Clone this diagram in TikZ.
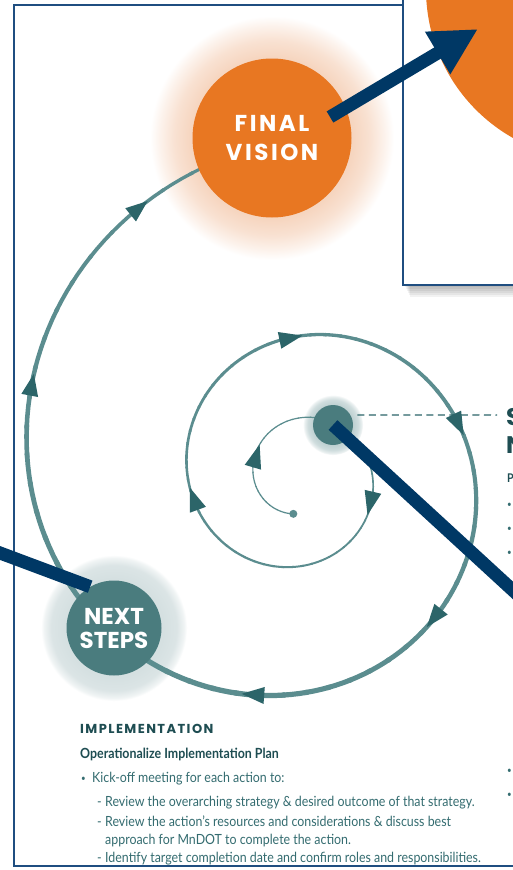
\documentclass[tikz,border=0pt]{standalone}
\usepackage{fontspec}
\setmainfont{Lato}
\newfontfamily\circlefont[LetterSpace=11]{Poppins}
\newfontfamily\stepsfont{Poppins}
\newfontfamily\headfont[LetterSpace=11]{Poppins}
\newfontfamily\bodyfont[FakeStretch=0.885]{Lato}
\usetikzlibrary{arrows.meta,calc}

\definecolor{visionorange}{HTML}{E87722}
\definecolor{halopeach}{HTML}{F6D5BF}
\definecolor{stepteal}{HTML}{4A7C7E}
\definecolor{stepshalo}{HTML}{D5E0E1}
\definecolor{hubhalo}{HTML}{BFD1D2}
\definecolor{spiralteal}{HTML}{5B8D8F}
\definecolor{tipteal}{HTML}{2C6569}
\definecolor{pointernavy}{HTML}{003865}
\definecolor{framenavy}{HTML}{1F4E80}
\definecolor{headteal}{HTML}{1E4D52}
\definecolor{bodyteal}{HTML}{346C70}

% a shaded circle of radius r spans 0bp to 25bp
\pgfdeclareradialshading{visionhalo}{\pgfpointorigin}{color(0bp)=(halopeach); color(16.5bp)=(halopeach); color(20bp)=(halopeach!70!white); color(23bp)=(halopeach!30!white); color(25bp)=(white); color(50bp)=(white)}
\pgfdeclareradialshading{stepshalo}{\pgfpointorigin}{color(0bp)=(stepshalo); color(17bp)=(stepshalo); color(21.5bp)=(stepshalo!85!white); color(24bp)=(stepshalo!35!white); color(25bp)=(white); color(50bp)=(white)}
\pgfdeclareradialshading{hubhalo}{\pgfpointorigin}{color(0bp)=(hubhalo); color(17bp)=(hubhalo); color(21bp)=(hubhalo!75!white); color(24bp)=(hubhalo!30!white); color(25bp)=(white); color(50bp)=(white)}

\begin{document}
\begin{tikzpicture}[x=1pt, y=-1pt,
    declare function={
      sr(\x)=46.7*exp(0.002435*(\x-180));
      sx(\x)=300+sr(\x)*cos(\x);
      sy(\x)=476+sr(\x)*sin(\x);
      sback(\x)=180+ln((sr(\x)-3.32)/46.7)/0.002435;
    },
    stagecircle/.style={circle, inner sep=0pt, text=white, align=center},
    pointer/.style={draw=pointernavy, line width=13pt},
    listline/.style={anchor=base west, inner sep=0pt, text=bodyteal, font=\bodyfont\fontsize{14}{16}\selectfont},
    listdot/.style={anchor=base west, inner sep=0pt, text=bodyteal, font=\bodyfont\fontsize{9}{11}\selectfont}
  ]
  \useasboundingbox (0,0) rectangle (513,870);
  \fill[white] (0,0) rectangle (513,870);
  \draw[framenavy, line width=1.5pt] (14,5) rectangle (560,866);

  % halos
  \coordinate (visionspot) at (272,138);
  \coordinate (stepsspot) at (114,628);
  \coordinate (hubspot) at (333,425);
  \shade[shading=visionhalo] (visionspot) circle[radius=122];
  \shade[shading=stepshalo] (stepsspot) circle[radius=73];
  \shade[shading=hubhalo] (hubspot) circle[radius=30];

  % spiral, getting wider outwards
  \foreach \a in {100,106,...,982} {
    \pgfmathsetmacro\b{\a+6.6}
    \pgfmathsetmacro\t{(\a-300)/520}
    \pgfmathsetmacro\w{\a<300 ? 1.2 : (\a<820 ? 1.5+3.8*(0.25*\t+0.75*\t*\t) : 5.3-2.6*((\a-820)/166)*((\a-820)/166))}
    \draw[spiralteal, line width=\w pt, line cap=round] plot[domain=\a:\b, samples=4] ({sx(\x)},{sy(\x)});
  }
  \foreach \p in {218,390,534,631,706,770,825,921,961} {
    \pgfmathsetmacro\q{sback(\p)}
    \coordinate (tip) at ({sx(\p)},{sy(\p)});
    \coordinate (tail) at ({sx(\q)},{sy(\q)});
    \fill[tipteal] (tip) -- ($(tail)!8.5pt!90:(tip)$) -- ($(tail)!8.5pt!-90:(tip)$) -- cycle;
  }
  \node[circle, fill=spiralteal, inner sep=0pt, minimum size=8pt] (spiralstart) at ({sx(100)},{sy(100)}) {};

  % stages
  \node[stagecircle, fill=visionorange, minimum size=159pt,
        font=\circlefont\bfseries\fontsize{23}{29}\selectfont] (vision) at (visionspot) {FINAL\\VISION};
  \node[stagecircle, fill=stepteal, minimum size=95pt,
        font=\stepsfont\bfseries\fontsize{23}{24}\selectfont] (nextsteps) at (stepsspot) {NEXT\\STEPS};
  \node[stagecircle, fill=stepteal, minimum size=40pt] (hub) at (hubspot) {};
  \coordinate (stepnote) at (497,415);
  \draw[tipteal, line width=1.2pt, dash pattern=on 7pt off 4.5pt, shorten <=7pt] (hub.30) -- (stepnote);

  % detail box top right
  \foreach \k in {0,...,5}
    \fill[black, opacity=0.05] (405+\k,200) rectangle (560,287+2*\k);
  \draw[framenavy, line width=1.5pt, fill=white] (403,-20) rectangle (560,285);
  \begin{scope}
    \clip (404,-20) rectangle (560,284);
    \node[circle, fill=visionorange, inner sep=0pt, minimum size=342pt] (visionzoom) at (597,-11) {};
  \end{scope}

  % pointers
  \coordinate (visionport) at (330,117);
  \coordinate (zoomtip) at (478,29);
  \coordinate (stepsfeed) at (-40,538);
  \coordinate (hubfeed) at (580,652);
  \draw[pointer, -{Triangle[length=47pt,width=46pt]}] (visionport) -- (zoomtip);
  \draw[pointer] (stepsfeed) -- (nextsteps.120);
  \draw[pointer] (hub.center) -- (hubfeed);

  % text cut by the right edge
  \node[anchor=base west, inner sep=0pt, text=headteal, font=\stepsfont\bfseries\fontsize{24}{24}\selectfont] (sidehead) at (506,425) {S};
  \node[anchor=base west, inner sep=0pt, text=headteal, font=\stepsfont\bfseries\fontsize{24}{24}\selectfont] (sidehead2) at (506,453) {N};
  \node[anchor=base west, inner sep=0pt, text=headteal, font=\bodyfont\bfseries\fontsize{12}{14}\selectfont] (sidesub) at (507,482) {P};
  \foreach \y [count=\i] in {507,531,555,773,797}
    \node[listdot] (sidedot\i) at (507,\y) {•};

  % implementation text
  \node[anchor=base west, inner sep=0pt, text=headteal, font=\headfont\bfseries\fontsize{13}{15}\selectfont] (implhead) at (80,733) {IMPLEMENTATION};
  \node[anchor=base west, inner sep=0pt, text=headteal, font=\bodyfont\bfseries\fontsize{14}{16}\selectfont] (implplan) at (80,758) {Operationalize Implementation Plan};
  \node[listdot] (kickdot) at (81,781) {•};
  \node[listline] (kickoff) at (92,782.5) {Kick-off meeting for each action to:};
  \node[listline] (dashone) at (97,806) {-};
  \node[listline] (reviewone) at (105,806) {Review the overarching strategy \& desired outcome of that strategy.};
  \node[listline] (dashtwo) at (97,826) {-};
  \node[listline] (reviewtwo) at (105,826) {Review the action’s resources and considerations \& discuss best};
  \node[listline] (reviewtwob) at (105,844) {approach for MnDOT to complete the action.};
  \node[listline] (dashthree) at (97,862) {-};
  \node[listline] (identify) at (105,862) {Identify target completion date and confirm roles and responsibilities.};
\end{tikzpicture}
\end{document}
